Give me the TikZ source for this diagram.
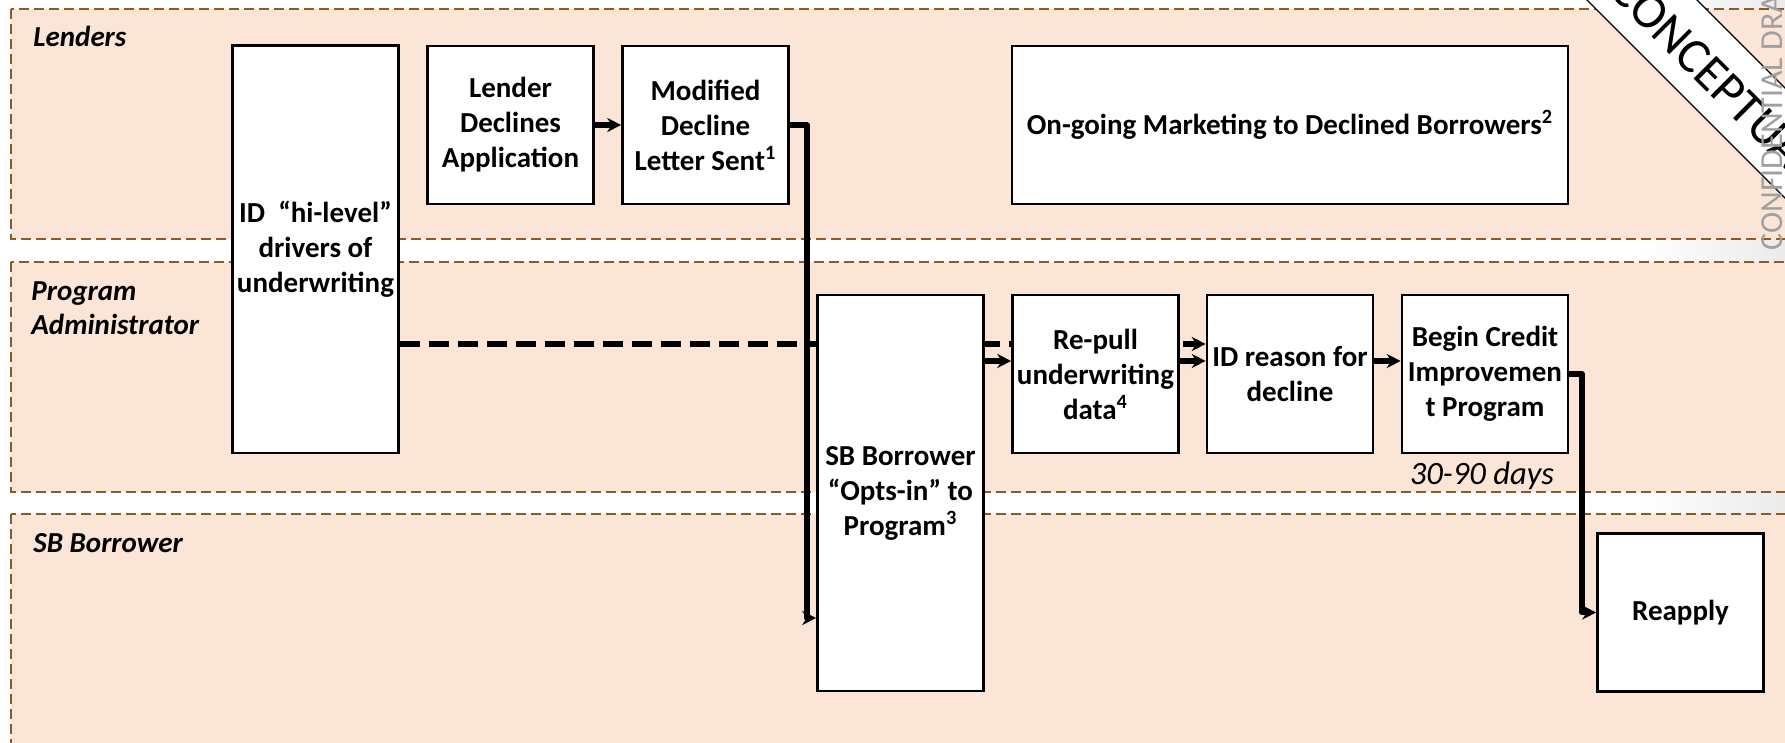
\documentclass[tikz,border=0pt]{standalone}
\usepackage{fontspec}
\setmainfont{Carlito}
\usetikzlibrary{arrows.meta,calc}
\definecolor{lanefill}{HTML}{FBE5D6}
\definecolor{laneedge}{HTML}{8C5A28}
\definecolor{confgray}{HTML}{A0A0A0}
\pgfdeclarelayer{lanes}
\pgfdeclarelayer{links}
\pgfsetlayers{lanes,links,main}
\begin{document}
\begin{tikzpicture}[x=0.5pt,y=-0.5pt,
  box/.style={draw=black,line width=1.3pt,fill=white,minimum width=83pt,minimum height=79pt,inner sep=0pt,align=center,font=\bfseries\fontsize{14.5}{17.5}\selectfont},
  lane/.style={fill=lanefill,draw=laneedge,line width=0.8pt,dash pattern=on 5pt off 2.5pt},
  lanelabel/.style={anchor=west,align=left,inner sep=0pt,font=\bfseries\itshape\fontsize{14.5}{17}\selectfont},
  link/.style={line width=2.6pt,line join=round,-{Stealth[length=7pt,width=7pt]}},
  dlink/.style={link,dash pattern=on 10pt off 4.5pt},
]
\useasboundingbox (0,0) rectangle (1785,743);
\clip (0,0) rectangle (1785,743);

\begin{pgfonlayer}{lanes}
  \clip (0,0) rectangle (1785,743);
  \fill[white] (0,0) rectangle (1785,743);
  \shade[left color=white,right color=black!8] (1640,0) rectangle (1785,743);
  \draw[lane] (11,9) rectangle (1830,239);
  \draw[lane] (11,262) rectangle (1830,492);
  \draw[lane] (11,514) rectangle (1830,790);
\end{pgfonlayer}

\node[lanelabel] (l1) at (33,36) {Lenders};
\node[lanelabel] (l2) at (31,308) {Program\\Administrator};
\node[lanelabel] (l3) at (33,543) {SB Borrower};

\node[box,minimum height=203.75pt] (hi) at (315.5,249.3) {ID\ \ “hi-level”\\drivers of\\underwriting};
\node[box] (dec) at (510.5,125) {Lender\\Declines\\Application};
\node[box] (mod) at (705.5,125) {Modified\\Decline\\Letter Sent\textsuperscript{1}};
\node[box,minimum width=278pt] (mkt) at (1290,125) {On-going Marketing to Declined Borrowers\textsuperscript{2}};
\node[box,minimum height=198pt] (opt) at (900.5,493) {SB Borrower\\“Opts-in” to\\Program\textsuperscript{3}};
\node[box] (rep) at (1095.5,374) {Re-pull\\underwriting\\data\textsuperscript{4}};
\node[box] (idr) at (1290,374) {ID reason for\\decline};
\node[box] (beg) at (1485,374) {Begin Credit\\Improvemen\\t Program};
\node[box] (rea) at (1680.5,612.5) {Reapply};

\node[inner sep=0pt,font=\itshape\fontsize{16.3}{19}\selectfont] (days) at (1482,476) {30-90 days};

\coordinate (yd) at (0,344);
\coordinate (ys) at (0,361);
\coordinate (ya) at (0,618);
\coordinate (mv) at (807,0);
\coordinate (bv) at (1582,0);

\begin{pgfonlayer}{links}
  \clip (0,0) rectangle (1785,743);
  \draw[dlink] (hi.east |- yd) -- (idr.west |- yd);
  \draw[link] (dec) -- (mod);
  \draw[link] (mod.east) -| (mv |- ya) -- (opt.west |- ya);
  \draw[link] (opt.east |- ys) -- (rep.west |- ys);
  \draw[link] (rep.east |- ys) -- (idr.west |- ys);
  \draw[link] (idr.east |- ys) -- (beg.west |- ys);
  \draw[link] (beg.east) -| (bv |- rea.west) -- (rea.west);
\end{pgfonlayer}

% diagonal banner
\filldraw[fill=white,draw=black,line width=0.6pt] (1567,-20) -- (1677,-20) -- (1997,300) -- (1887,300) -- cycle;
\node[rotate=-45,inner sep=0pt,font=\fontsize{25}{25}\selectfont] (concept) at (1716,78) {CONCEPTUAL};
\node[rotate=90,anchor=base west,inner sep=0pt,text=confgray,font=\fontsize{16}{16}\selectfont] (conf) at (1782,251) {CONFIDENTIAL DRAFT};
\end{tikzpicture}
\end{document}
